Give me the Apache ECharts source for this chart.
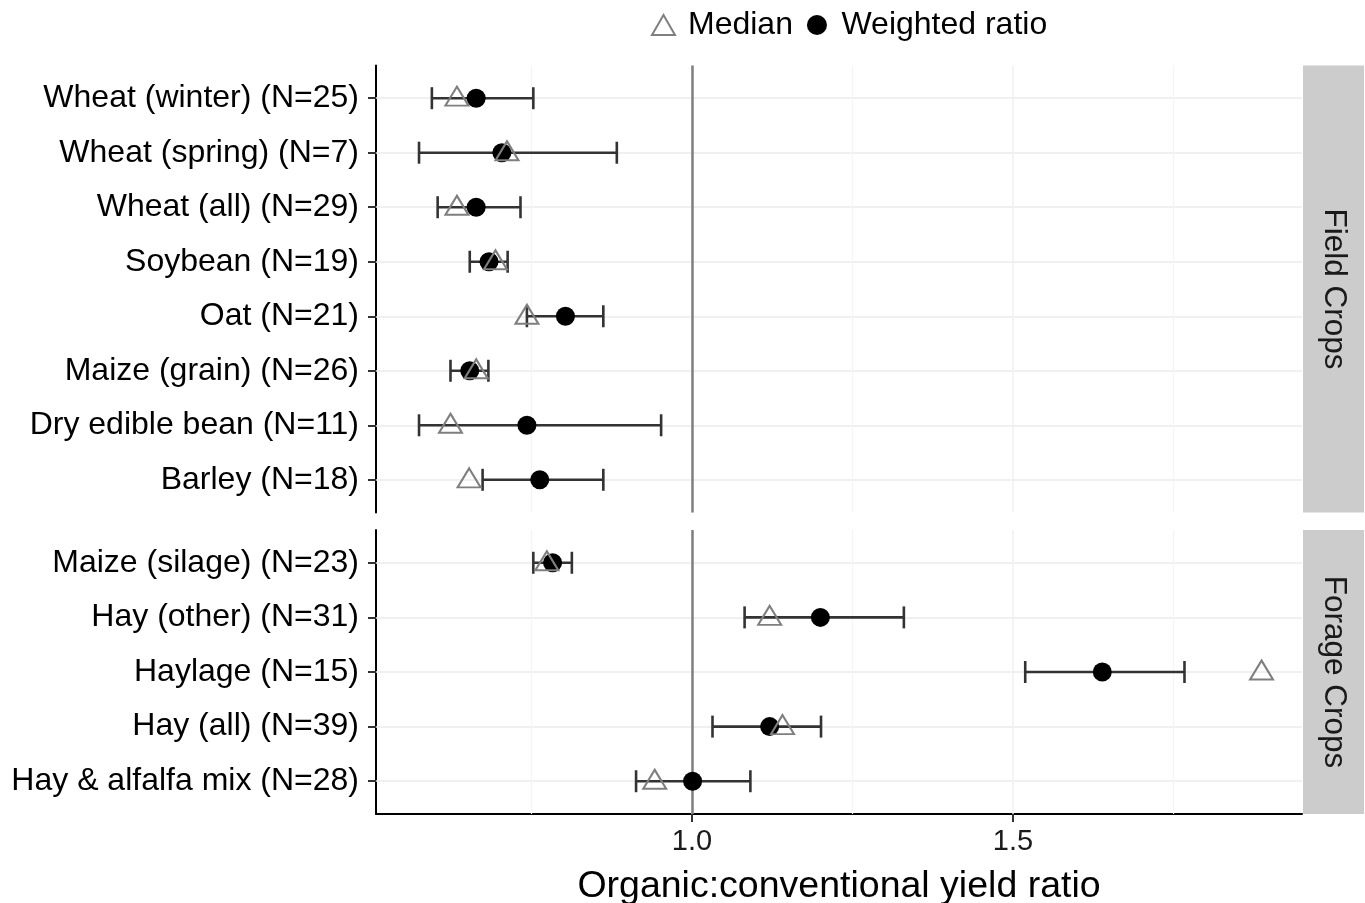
<!DOCTYPE html>
<html>
<head>
<meta charset="utf-8">
<script src="https://cdn.jsdelivr.net/npm/echarts@6/dist/echarts.min.js"></script>
<style>
html,body{margin:0;padding:0;background:#fff;}
#chart{width:1365px;height:903px;}
</style>
</head>
<body>
<div id="chart"></div>
<script>
// ---------- data ----------
const fieldCats = ['Wheat (winter) (N=25)', 'Wheat (spring) (N=7)', 'Wheat (all) (N=29)', 'Soybean (N=19)', 'Oat (N=21)', 'Maize (grain) (N=26)', 'Dry edible bean (N=11)', 'Barley (N=18)'];
const fieldWeighted = [0.664, 0.704, 0.664, 0.684, 0.803, 0.654, 0.743, 0.763];
const fieldMedian   = [0.634, 0.712, 0.634, 0.694, 0.743, 0.664, 0.624, 0.653];
const fieldLower    = [0.595, 0.575, 0.604, 0.654, 0.743, 0.624, 0.575, 0.674];
const fieldUpper    = [0.753, 0.883, 0.733, 0.713, 0.862, 0.683, 0.952, 0.862];

const forageCats = ['Maize (silage) (N=23)', 'Hay (other) (N=31)', 'Haylage (N=15)', 'Hay (all) (N=39)', 'Hay & alfalfa mix (N=28)'];
const forageWeighted = [0.783, 1.200, 1.639, 1.121, 1.001];
const forageMedian   = [0.774, 1.121, 1.887, 1.141, 0.942];
const forageLower    = [0.753, 1.082, 1.519, 1.032, 0.913];
const forageUpper    = [0.813, 1.330, 1.767, 1.201, 1.091];

const panelNames = ['Field Crops', 'Forage Crops'];
const xTicks = [1.0, 1.5];
const xGridMajor = [1.0, 1.5];
const xGridMinor = [0.75, 1.25, 1.75];
const refLine = 1.0;
const xMin = 0.508, xMax = 1.95;

// ---------- layout ----------
const FONT = 'Liberation Sans, Arial, sans-serif';
const gridLeft = 376, gridWidth = 926;
const panels = [
  {cats: fieldCats, w: fieldWeighted, m: fieldMedian, lo: fieldLower, hi: fieldUpper, top: 65.5, height: 447},
  {cats: forageCats, w: forageWeighted, m: forageMedian, lo: forageLower, hi: forageUpper, top: 530, height: 284}
];

const grids = [], xAxes = [], yAxes = [], series = [], graphics = [];

panels.forEach((p, g) => {
  const n = p.cats.length;
  const idx = p.cats.map((c, i) => i);
  const isBottom = g === panels.length - 1;
  grids.push({left: gridLeft, width: gridWidth, top: p.top, height: p.height,
    containLabel: false, outerBoundsMode: 'none'});
  xAxes.push({
    type: 'value', gridIndex: g, min: xMin, max: xMax,
    axisLine: {show: isBottom, onZero: false, lineStyle: {color: '#000', width: 2}},
    axisTick: {show: isBottom, customValues: xTicks, length: 8, lineStyle: {color: '#333', width: 2}},
    axisLabel: {show: isBottom, customValues: xTicks, formatter: v => Number(v).toFixed(1),
      fontSize: 29, color: '#1a1a1a', fontFamily: FONT, margin: 13},
    splitLine: {show: false},
    name: isBottom ? 'Organic:conventional yield ratio' : '',
    nameLocation: 'middle', nameGap: 54,
    nameTextStyle: {fontSize: 37.5, color: '#000', fontFamily: FONT}
  });
  yAxes.push({
    type: 'value', gridIndex: g, inverse: true, min: -0.6, max: n - 1 + 0.6,
    axisLine: {show: true, onZero: false, lineStyle: {color: '#000', width: 2}},
    axisTick: {show: true, customValues: idx, length: 8, lineStyle: {color: '#333', width: 2}},
    axisLabel: {show: true, customValues: idx, formatter: v => p.cats[Math.round(v)],
      fontSize: 32, color: '#000', fontFamily: FONT, margin: 17},
    splitLine: {show: false}
  });

  // grid lines
  series.push({
    type: 'line', xAxisIndex: g, yAxisIndex: g, data: [], z: 1, silent: true,
    markLine: {
      z: 1, silent: true, symbol: 'none', label: {show: false}, animation: false,
      data: [
        ...idx.map(i => ({yAxis: i, lineStyle: {color: '#ebebeb', width: 1.5, type: 'solid'}})),
        ...xGridMajor.map(v => ({xAxis: v, lineStyle: {color: '#f0f0f0', width: 1.5, type: 'solid'}})),
        ...xGridMinor.map(v => ({xAxis: v, lineStyle: {color: '#f4f4f4', width: 1.2, type: 'solid'}}))
      ]
    }
  });
  // reference line
  series.push({
    type: 'line', xAxisIndex: g, yAxisIndex: g, data: [], z: 2, silent: true,
    markLine: {
      z: 2, silent: true, symbol: 'none', label: {show: false}, animation: false,
      data: [{xAxis: refLine, lineStyle: {color: '#7f7f7f', width: 2.5, type: 'solid'}}]
    }
  });

  // error bars
  series.push({
    type: 'custom', xAxisIndex: g, yAxisIndex: g, z: 3, silent: true,
    data: idx.map(i => [i, p.lo[i], p.hi[i]]),
    renderItem: (params, api) => {
      const i = api.value(0);
      const a = api.coord([api.value(1), i]);
      const b = api.coord([api.value(2), i]);
      const h = 11;
      const st = {stroke: '#333', lineWidth: 2.6};
      return {type: 'group', children: [
        {type: 'line', shape: {x1: a[0], y1: a[1], x2: b[0], y2: b[1]}, style: st},
        {type: 'line', shape: {x1: a[0], y1: a[1] - h, x2: a[0], y2: a[1] + h}, style: st},
        {type: 'line', shape: {x1: b[0], y1: b[1] - h, x2: b[0], y2: b[1] + h}, style: st}
      ]};
    }
  });

  series.push({
    name: 'Weighted ratio', type: 'scatter', xAxisIndex: g, yAxisIndex: g, z: 4,
    symbol: 'circle', symbolSize: 19,
    itemStyle: {color: '#000', opacity: 1},
    data: idx.map(i => [p.w[i], i])
  });
  series.push({
    name: 'Median', type: 'scatter', xAxisIndex: g, yAxisIndex: g, z: 5,
    symbol: 'triangle', symbolSize: [23, 19], symbolOffset: [0, -2],
    itemStyle: {color: 'rgba(255,255,255,0)', borderColor: '#7f7f7f', borderWidth: 2, opacity: 1},
    data: idx.map(i => [p.m[i], i])
  });

  // facet strip
  graphics.push({type: 'rect', shape: {x: gridLeft + gridWidth + 1, y: p.top, width: 61, height: p.height},
    style: {fill: '#cccccc'}, silent: true});
  graphics.push({type: 'text', x: gridLeft + gridWidth + 1 + 30.5, y: p.top + p.height / 2, rotation: -Math.PI / 2,
    style: {text: panelNames[g], font: '31.5px ' + FONT, fill: '#1a1a1a', align: 'center', verticalAlign: 'middle'},
    silent: true});
});

const chart = echarts.init(document.getElementById('chart'), null, {renderer: 'canvas'});
chart.setOption({
  animation: false,
  backgroundColor: '#fff',
  textStyle: {fontFamily: FONT},
  grid: grids,
  xAxis: xAxes,
  yAxis: yAxes,
  legend: {
    left: 646, top: 4, orient: 'horizontal',
    itemWidth: 23, itemHeight: 20, itemGap: 14,
    textStyle: {fontSize: 32, color: '#000', fontFamily: FONT, padding: [0, 0, 0, 8]},
    data: [
      {name: 'Median', icon: 'triangle', itemStyle: {color: 'rgba(255,255,255,0)', borderColor: '#7f7f7f', borderWidth: 2}},
      {name: 'Weighted ratio', icon: 'circle', itemStyle: {color: '#000'}}
    ]
  },
  graphic: graphics,
  series: series
});
</script>
</body>
</html>
